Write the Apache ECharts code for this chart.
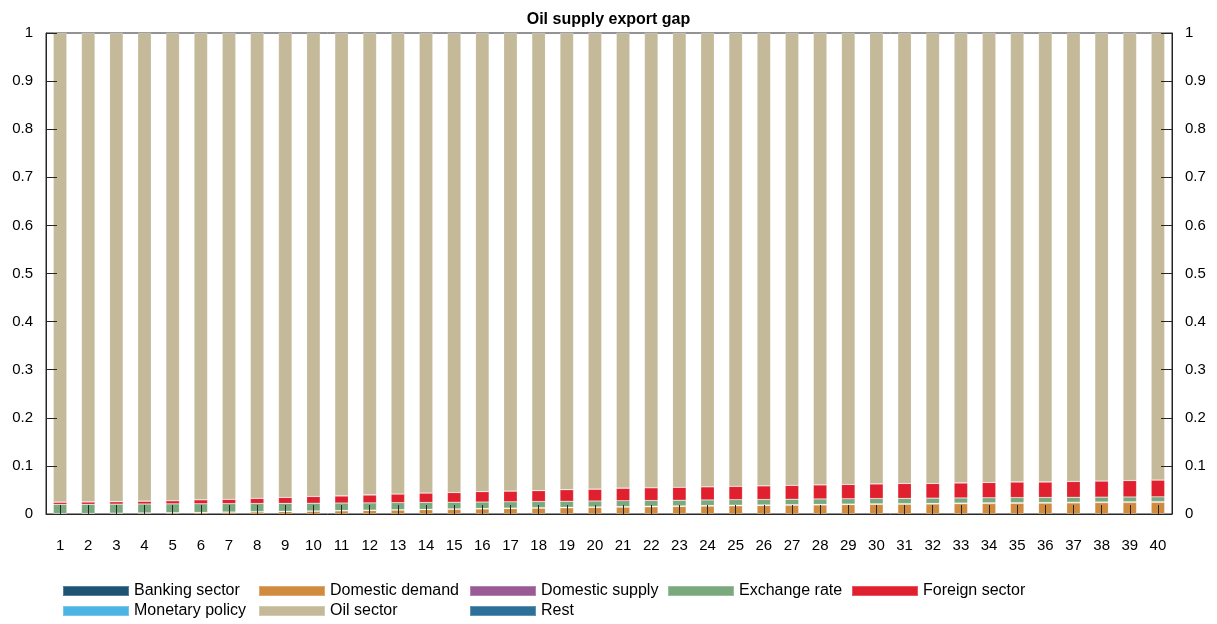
<!DOCTYPE html>
<html>
<head>
<meta charset="utf-8">
<script src="https://cdn.jsdelivr.net/npm/echarts@6/dist/echarts.min.js"></script>
<style>
  html, body { margin: 0; padding: 0; background: #ffffff; }
  #chart { width: 1217px; height: 624px; }
</style>
</head>
<body>
<div id="chart"></div>
<script>
// Horizons 1..40
const periods = Array.from({ length: 40 }, (_, i) => String(i + 1));

// Share of the forecast-error variance of the oil supply export gap, by shock group
const bankingSector = [0.0002,0.0002,0.0002,0.0002,0.0002,0.0002,0.0002,0.0002,0.0002,0.0002,
  0.0002,0.0002,0.0002,0.0002,0.0002,0.0002,0.0002,0.0002,0.0002,0.0002,
  0.0002,0.0002,0.0002,0.0002,0.0002,0.0002,0.0002,0.0002,0.0002,0.0002,
  0.0002,0.0002,0.0002,0.0002,0.0002,0.0002,0.0002,0.0002,0.0002,0.0002];
const domesticDemand = [0.0005,0.0008,0.0012,0.0017,0.0022,0.0028,0.0034,0.0041,0.0048,0.0055,
  0.0063,0.0071,0.0079,0.0087,0.0095,0.0103,0.0111,0.0119,0.0127,0.0134,
  0.0141,0.0148,0.0155,0.0162,0.0168,0.0174,0.0180,0.0186,0.0191,0.0196,
  0.0201,0.0206,0.0211,0.0216,0.0220,0.0224,0.0228,0.0232,0.0236,0.0240];
const domesticSupply = [0.0003,0.0003,0.0004,0.0004,0.0005,0.0005,0.0006,0.0006,0.0007,0.0007,
  0.0008,0.0008,0.0009,0.0009,0.0010,0.0010,0.0010,0.0011,0.0011,0.0011,
  0.0012,0.0012,0.0012,0.0013,0.0013,0.0013,0.0013,0.0014,0.0014,0.0014,
  0.0014,0.0015,0.0015,0.0015,0.0015,0.0015,0.0016,0.0016,0.0016,0.0016];
const exchangeRate = [0.0190,0.0189,0.0187,0.0185,0.0182,0.0178,0.0174,0.0170,0.0165,0.0160,
  0.0155,0.0150,0.0146,0.0142,0.0138,0.0134,0.0131,0.0128,0.0125,0.0123,
  0.0121,0.0119,0.0117,0.0115,0.0114,0.0113,0.0112,0.0111,0.0110,0.0109,
  0.0108,0.0107,0.0106,0.0105,0.0104,0.0103,0.0102,0.0101,0.0100,0.0099];
const foreignSector = [0.0045,0.0048,0.0050,0.0057,0.0064,0.0082,0.0089,0.0106,0.0123,0.0141,
  0.0147,0.0164,0.0179,0.0195,0.0200,0.0216,0.0221,0.0225,0.0240,0.0245,
  0.0259,0.0264,0.0269,0.0273,0.0278,0.0283,0.0288,0.0292,0.0298,0.0304,
  0.0310,0.0305,0.0311,0.0317,0.0324,0.0321,0.0327,0.0334,0.0341,0.0348];
const monetaryPolicy = [0.0002,0.0002,0.0002,0.0002,0.0002,0.0002,0.0002,0.0002,0.0002,0.0002,
  0.0002,0.0002,0.0002,0.0002,0.0002,0.0002,0.0002,0.0002,0.0002,0.0002,
  0.0002,0.0002,0.0002,0.0002,0.0002,0.0002,0.0002,0.0002,0.0002,0.0002,
  0.0002,0.0002,0.0002,0.0002,0.0002,0.0002,0.0002,0.0002,0.0002,0.0002];
const oilSector = [0.9750,0.9745,0.9740,0.9730,0.9720,0.9700,0.9690,0.9670,0.9650,0.9630,
  0.9620,0.9600,0.9580,0.9560,0.9550,0.9530,0.9520,0.9510,0.9490,0.9480,
  0.9460,0.9450,0.9440,0.9430,0.9420,0.9410,0.9400,0.9390,0.9380,0.9370,
  0.9360,0.9360,0.9350,0.9340,0.9330,0.9330,0.9320,0.9310,0.9300,0.9290];
const rest = [0.0003,0.0003,0.0003,0.0003,0.0003,0.0003,0.0003,0.0003,0.0003,0.0003,
  0.0003,0.0003,0.0003,0.0003,0.0003,0.0003,0.0003,0.0003,0.0003,0.0003,
  0.0003,0.0003,0.0003,0.0003,0.0003,0.0003,0.0003,0.0003,0.0003,0.0003,
  0.0003,0.0003,0.0003,0.0003,0.0003,0.0003,0.0003,0.0003,0.0003,0.0003];

const yTicks = ['0', '0.1', '0.2', '0.3', '0.4', '0.5', '0.6', '0.7', '0.8', '0.9', '1'];

const seriesDefs = [
  { name: 'Banking sector',  data: bankingSector,  color: '#1f5373' },
  { name: 'Domestic demand', data: domesticDemand, color: '#d08b3f' },
  { name: 'Domestic supply', data: domesticSupply, color: '#995a96' },
  { name: 'Exchange rate',   data: exchangeRate,   color: '#7aa97e' },
  { name: 'Foreign sector',  data: foreignSector,  color: '#e0202e' },
  { name: 'Monetary policy', data: monetaryPolicy, color: '#4bb4e2' },
  { name: 'Oil sector',      data: oilSector,      color: '#c4b998' },
  { name: 'Rest',            data: rest,           color: '#2c6f98' }
];

const FONT = 'Liberation Sans, Arial, Helvetica, sans-serif';
const axisColor = '#262626';

// Legend laid out as columns, one legend block per column
const legendCols = [
  { left: 62,  items: ['Banking sector', 'Monetary policy'] },
  { left: 258, items: ['Domestic demand', 'Oil sector'] },
  { left: 469, items: ['Domestic supply', 'Rest'] },
  { left: 667, items: ['Exchange rate'] },
  { left: 851, items: ['Foreign sector'] }
];

const yAxisCommon = {
  type: 'value',
  min: 0,
  max: 1,
  interval: 0.1,
  splitLine: { show: false },
  axisLine: { show: true, lineStyle: { color: axisColor, width: 1 } },
  axisTick: { show: true, inside: true, length: 11, lineStyle: { color: axisColor } },
  axisLabel: {
    color: '#000', fontSize: 15, fontFamily: FONT, margin: 13,
    formatter: v => yTicks[Math.round(v * 10)]
  },
  z: 3
};

const option = {
  animation: false,
  backgroundColor: '#ffffff',
  title: {
    text: 'Oil supply export gap',
    left: 'center',
    top: 7,
    textStyle: { fontFamily: FONT, fontSize: 16, fontWeight: 'bold', color: '#000' }
  },
  legend: legendCols.map(c => ({
    orient: 'vertical',
    left: c.left,
    top: 582,
    padding: 0,
    itemGap: 2,
    itemWidth: 66,
    itemHeight: 10,
    icon: 'rect',
    data: c.items,
    textStyle: { fontFamily: FONT, fontSize: 16, color: '#000', lineHeight: 18 }
  })),
  grid: { left: 46, right: 45, top: 33, bottom: 110, containLabel: false,
          show: true, borderColor: axisColor, borderWidth: 1 },
  xAxis: {
    type: 'category',
    data: periods,
    boundaryGap: true,
    axisLine: { show: true, lineStyle: { color: axisColor, width: 1 } },
    axisTick: { show: true, inside: true, alignWithLabel: true, length: 9,
                lineStyle: { color: axisColor } },
    axisLabel: { color: '#000', fontSize: 15, fontFamily: FONT, margin: 24, interval: 0 },
    z: 3
  },
  yAxis: [
    Object.assign({ position: 'left' }, yAxisCommon),
    Object.assign({ position: 'right' }, yAxisCommon)
  ],
  series: seriesDefs.map(s => ({
    name: s.name,
    type: 'bar',
    stack: 'total',
    barWidth: '48%',
    data: s.data,
    itemStyle: { color: s.color, borderColor: 'rgba(255,255,255,0.25)', borderWidth: 0.6 },
    emphasis: { disabled: true }
  }))
};

const chart = echarts.init(document.getElementById('chart'), null, { renderer: 'canvas' });
chart.setOption(option);
</script>
</body>
</html>
